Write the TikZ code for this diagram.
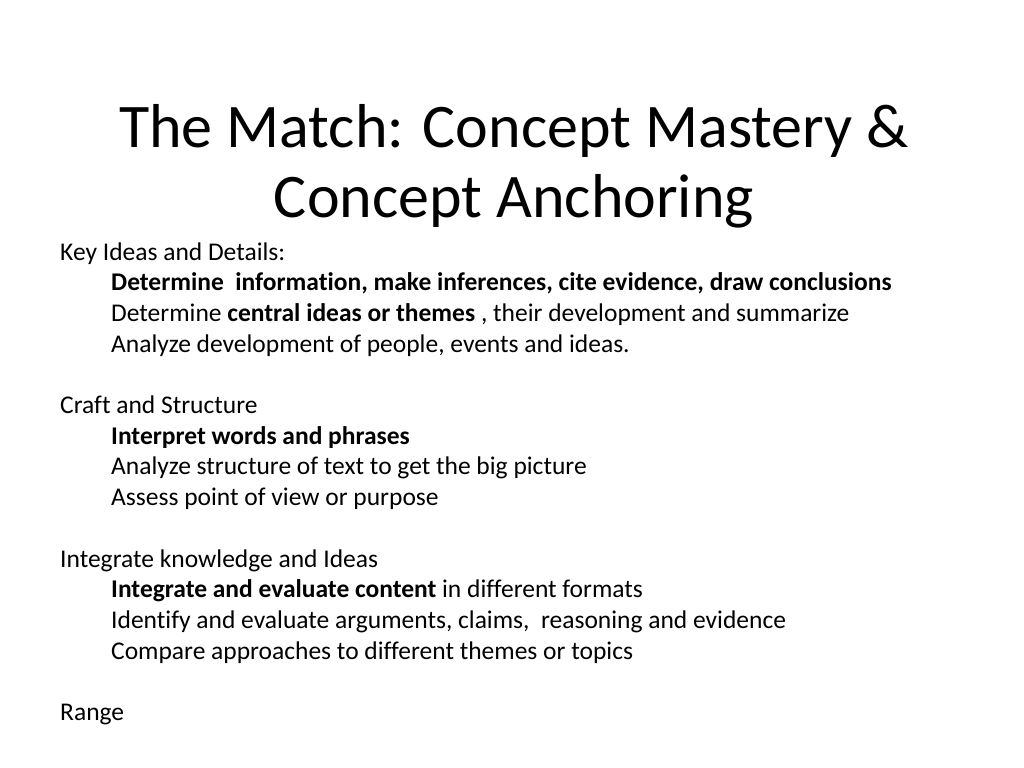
\documentclass[tikz,border=0pt]{standalone}
\usepackage{fontspec}
\setmainfont[Ligatures=NoCommon]{Carlito}
\begin{document}
\begin{tikzpicture}[x=1bp,y=-1bp,
  title/.style={anchor=base,font=\fontsize{62bp}{70bp}\selectfont},
  body/.style={anchor=base west,inner sep=0pt,font=\fontsize{25.5bp}{30bp}\selectfont}]
\useasboundingbox (0,0) rectangle (1024,768);
\node[title] (t1) at (514,147) {The Match: Concept Mastery \&};
\node[title] (t2) at (514,217) {Concept Anchoring};
\node[body] (a0) at (60,260) {Key Ideas and Details:};
\node[body] (a1) at (111,290) {\textbf{Determine\ \ information, make inferences, cite evidence, draw conclusions}};
\node[body] (a2) at (111,321) {Determine \textbf{central ideas or themes} , their development and summarize};
\node[body] (a3) at (111,352) {Analyze development of people, events and ideas.};
\node[body] (b0) at (60,413) {Craft and Structure};
\node[body] (b1) at (111,444) {\textbf{Interpret words and phrases}};
\node[body] (b2) at (111,474) {Analyze structure of text to get the big picture};
\node[body] (b3) at (111,505) {Assess point of view or purpose};
\node[body] (c0) at (60,567) {Integrate knowledge and Ideas};
\node[body] (c1) at (111,597) {\textbf{Integrate and evaluate content} in different formats};
\node[body] (c2) at (111,628) {Identify and evaluate arguments, claims,\ \ reasoning and evidence};
\node[body] (c3) at (111,659) {Compare approaches to different themes or topics};
\node[body] (d0) at (60,720) {Range};
\end{tikzpicture}
\end{document}
